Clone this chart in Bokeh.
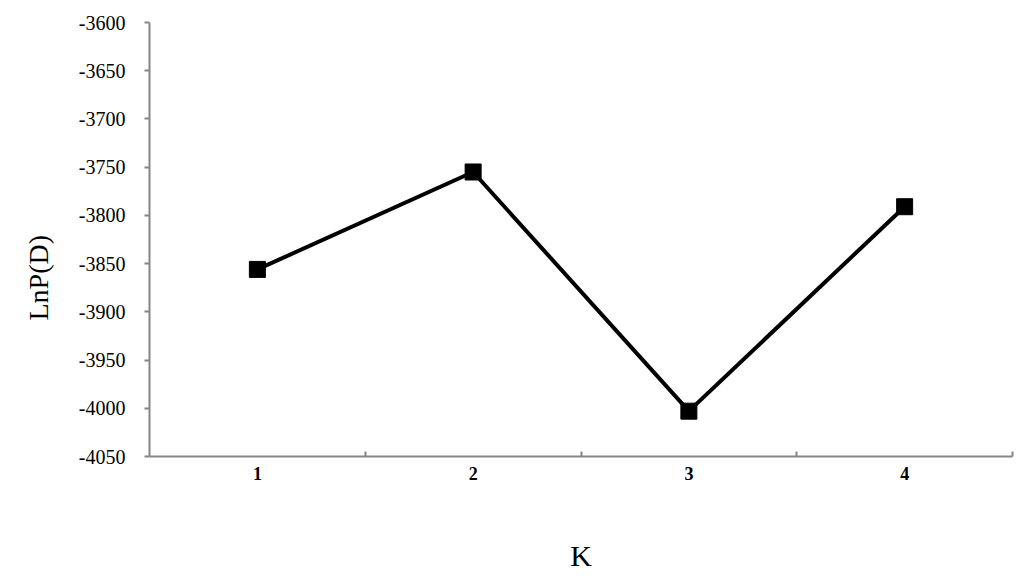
from bokeh.plotting import figure
from bokeh.models import FixedTicker, Range1d, Title
from bokeh.embed import file_html
from bokeh.resources import INLINE

k_values = [1, 2, 3, 4]
lnp_values = [-3856, -3755, -4003, -3791]
y_ticks = [-4050, -4000, -3950, -3900, -3850, -3800, -3750, -3700, -3650, -3600]
boundaries = [k + 0.5 for k in k_values]

p = figure(width=1016, height=578, output_backend="svg", toolbar_location=None,
           x_range=Range1d(0.5, 4.5), y_range=Range1d(-4050, -3600),
           min_border_left=149, min_border_top=22, min_border_right=4, min_border_bottom=122)
p.outline_line_color = None
p.xgrid.visible = False
p.ygrid.visible = False
p.background_fill_color = "white"
p.border_fill_color = "white"

axis_color = "#868686"
serif = "Liberation Serif"

p.line(k_values, lnp_values, line_color="black", line_width=4)
p.scatter(k_values, lnp_values, marker="square", size=16, fill_color="black", line_color="black")

xa = p.xaxis[0]
xa.ticker = FixedTicker(ticks=k_values, minor_ticks=boundaries)
xa.axis_line_color = axis_color
xa.axis_line_width = 2
xa.major_tick_in = 0
xa.major_tick_out = 0
xa.minor_tick_in = 5
xa.minor_tick_out = 0
xa.minor_tick_line_color = axis_color
xa.minor_tick_line_width = 2
xa.major_label_text_font = serif
xa.major_label_text_font_style = "bold"
xa.major_label_text_font_size = "18px"
xa.major_label_text_color = "black"
xa.major_label_standoff = 10
xa.axis_label = "K"
xa.axis_label_text_font = serif
xa.axis_label_text_font_style = "normal"
xa.axis_label_text_font_size = "30px"
xa.axis_label_text_color = "black"
xa.axis_label_standoff = 56

ya = p.yaxis[0]
ya.ticker = FixedTicker(ticks=y_ticks, minor_ticks=[])
ya.major_label_overrides = {t: str(t) for t in y_ticks}
ya.axis_line_color = axis_color
ya.axis_line_width = 2
ya.major_tick_in = 0
ya.major_tick_out = 5
ya.major_tick_line_color = axis_color
ya.major_tick_line_width = 2
ya.minor_tick_in = 0
ya.minor_tick_out = 0
ya.major_label_text_font = serif
ya.major_label_text_font_size = "20px"
ya.major_label_text_color = "black"
ya.major_label_standoff = 19

ytitle = Title(text="LnP(D)", align="left", offset=136, standoff=40, vertical_align="top",
               text_font=serif, text_font_size="28px", text_font_style="normal",
               text_color="black")
p.add_layout(ytitle, "left")

open("out.html", "w").write(file_html(p, INLINE))
